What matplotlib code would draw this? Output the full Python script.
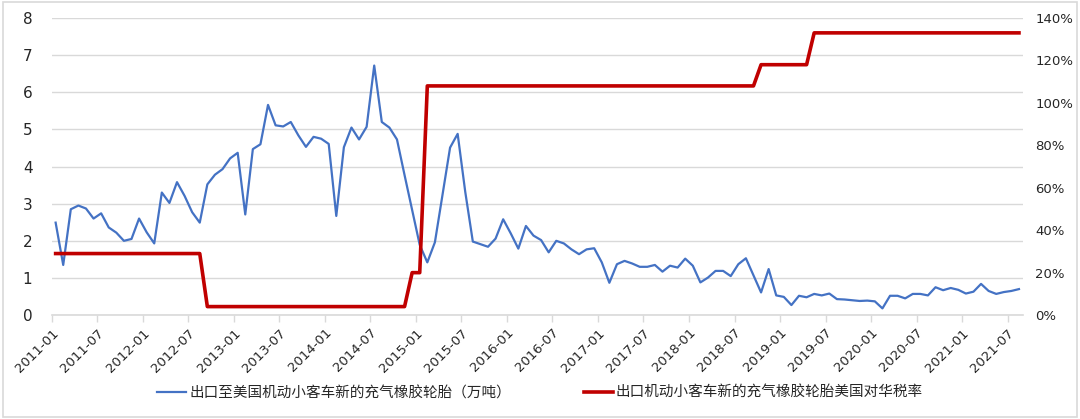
import matplotlib
matplotlib.use("Agg")
import matplotlib.pyplot as plt
import matplotlib.patches as patches
from matplotlib.ticker import FuncFormatter
import pandas as pd

plt.rcParams['font.family'] = ['Noto Sans CJK SC', 'DejaVu Sans']

# monthly export volume to the US, 10k tonnes (2011-01 .. 2021-08)
export_volume = [
    2.49, 1.35, 2.85, 2.95, 2.87, 2.60, 2.74, 2.36, 2.22, 2.00, 2.05, 2.60,
    2.23, 1.93, 3.30, 3.02, 3.58, 3.21, 2.77, 2.49, 3.52, 3.78, 3.93, 4.22,
    4.37, 2.71, 4.47, 4.60, 5.66, 5.11, 5.08, 5.20, 4.84, 4.53, 4.80, 4.75,
    4.61, 2.67, 4.52, 5.05, 4.73, 5.07, 6.72, 5.20, 5.05, 4.73, 3.77, 2.83,
    1.89, 1.42, 1.96, 3.23, 4.51, 4.88, 3.32, 1.98, 1.91, 1.84, 2.06, 2.58,
    2.20, 1.79, 2.40, 2.14, 2.02, 1.69, 2.00, 1.93, 1.77, 1.64, 1.77, 1.80,
    1.42, 0.87, 1.37, 1.46, 1.39, 1.30, 1.30, 1.35, 1.17, 1.33, 1.28, 1.52,
    1.33, 0.88, 1.01, 1.19, 1.19, 1.05, 1.37, 1.53, 1.07, 0.61, 1.24, 0.53,
    0.49, 0.27, 0.52, 0.48, 0.57, 0.53, 0.58, 0.43, 0.42, 0.40, 0.38, 0.39,
    0.37, 0.18, 0.52, 0.52, 0.45, 0.57, 0.57, 0.53, 0.75, 0.67, 0.73, 0.68,
    0.58, 0.63, 0.84, 0.65, 0.57, 0.62, 0.65, 0.70,
]

# US tariff rate on these tyres, % (piecewise constant by month)
tariff_rate = ([29.0] * 20      # 2011-01 .. 2012-08
               + [4.0] * 27     # 2012-09 .. 2014-11
               + [20.0] * 2     # 2014-12 .. 2015-01
               + [108.0] * 44   # 2015-02 .. 2018-09
               + [118.0] * 7    # 2018-10 .. 2019-04
               + [133.0] * 28)  # 2019-05 .. 2021-08

months = pd.date_range('2011-01', periods=len(export_volume), freq='MS')
month_labels = [d.strftime('%Y-%m') for d in months]

label_blue = '出口至美国机动小客车新的充气橡胶轮胎（万吨）'
label_red = '出口机动小客车新的充气橡胶轮胎美国对华税率'

blue = '#4472C4'
red = '#C00000'
grid_c = '#D9D9D9'
text_c = '#262626'

fig = plt.figure(figsize=(10.8, 4.19), dpi=100)
ax = fig.add_axes([0.048, 0.248, 0.899, 0.709])
ax2 = ax.twinx()

x = list(range(len(export_volume)))
l1, = ax.plot(x, export_volume, color=blue, linewidth=1.6, zorder=3)
l2, = ax2.plot(x, tariff_rate, color=red, linewidth=2.6, zorder=3)

ax.set_ylim(0, 8)
ax.set_yticks(range(0, 9))
ax2.set_ylim(0, 140)
ax2.set_yticks(range(0, 141, 20))
ax2.yaxis.set_major_formatter(FuncFormatter(lambda v, p: f'{int(v)}%'))

ax.set_xlim(-0.5, len(export_volume) - 0.5)
tick_idx = list(range(0, len(export_volume), 6))
ax.set_xticks([i - 0.5 for i in tick_idx])
ax.set_xticklabels([month_labels[i] for i in tick_idx], rotation=45,
                   ha='right', va='top', rotation_mode='anchor',
                   fontsize=9.5, color=text_c, family='DejaVu Sans')

ax.grid(axis='y', color=grid_c, linewidth=1.0)
ax.set_axisbelow(True)
for a in (ax, ax2):
    for s in ('top', 'left', 'right', 'bottom'):
        a.spines[s].set_visible(False)
ax.spines['bottom'].set_visible(True)
ax.spines['bottom'].set_color(grid_c)
ax.spines['bottom'].set_linewidth(1.2)

ax.tick_params(axis='x', length=5, color=grid_c, width=1.0, pad=3)
ax.tick_params(axis='y', length=0, labelsize=11, labelcolor=text_c, pad=14)
ax2.tick_params(axis='y', length=0, labelsize=9.5, labelcolor=text_c, pad=9)
for t in ax.get_yticklabels() + ax2.get_yticklabels():
    t.set_family('DejaVu Sans')

fig.legend([l1, l2], [label_blue, label_red], loc='center',
           bbox_to_anchor=(0.5, 0.062), ncol=2, frameon=False,
           fontsize=10.5, handlelength=2.0, handletextpad=0.2,
           columnspacing=5.0, labelcolor=text_c)

border = patches.Rectangle((0.003, 0.004), 0.994, 0.992,
                           transform=fig.transFigure, fill=False,
                           edgecolor=grid_c, linewidth=1.2)
fig.patches.append(border)

fig.savefig('out.png', dpi=100)
